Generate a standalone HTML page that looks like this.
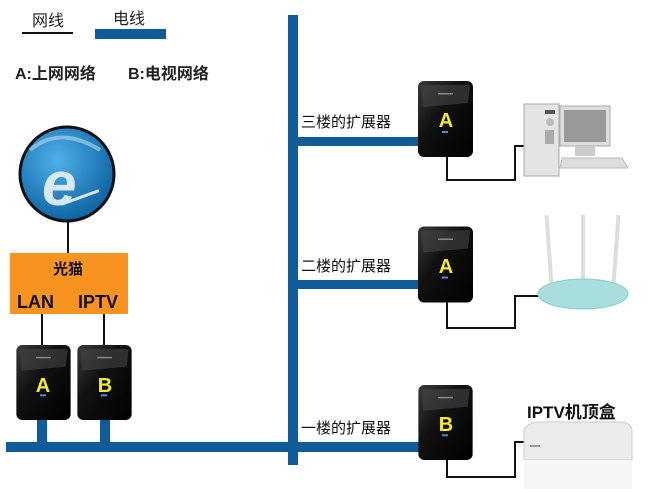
<!DOCTYPE html>
<html><head><meta charset="utf-8"><style>
body{margin:0;background:#fff;}
svg{display:block}
text{font-family:"Liberation Sans","Noto Sans CJK SC",sans-serif;}
</style></head><body>
<svg width="654" height="489" viewBox="0 0 654 489" xmlns="http://www.w3.org/2000/svg">
<defs>
<linearGradient id="dev" x1="0" y1="0" x2="1" y2="1"><stop offset="0" stop-color="#3a3a3a"/><stop offset="0.4" stop-color="#111"/><stop offset="1" stop-color="#000"/></linearGradient>
<radialGradient id="globe" cx="0.4" cy="0.35" r="0.7"><stop offset="0" stop-color="#4fb0e8"/><stop offset="1" stop-color="#0a5fa0"/></radialGradient>
<symbol id="ext" viewBox="0 0 55 76">
<rect x="0" y="0" width="55" height="76" rx="6" fill="url(#dev)"/>
<path d="M3 4 L52 4 L50 22 L5 26 Z" fill="#444" opacity="0.6"/>
<rect x="20" y="12" width="15" height="1.5" fill="#888"/>
<rect x="24" y="50" width="6" height="2" fill="#5588dd"/>
</symbol>
</defs>
<text x="32" y="26" font-size="16" fill="#222">网线</text>
<rect x="22" y="32" width="51" height="2" fill="#111"/>
<text x="113" y="24" font-size="16" fill="#222">电线</text>
<rect x="95" y="29" width="71" height="10" fill="#0f5c98"/>
<text x="15" y="79" font-size="16" font-weight="bold" fill="#222">A:上网网络</text>
<text x="128" y="79" font-size="16" font-weight="bold" fill="#222">B:电视网络</text>
<rect x="67" y="220" width="2" height="34" fill="#111"/>
<ellipse cx="67" cy="174" rx="47" ry="47" fill="url(#globe)" stroke="#111" stroke-width="3"/>
<path d="M30 150 Q60 125 100 150" stroke="#9fd0f0" stroke-width="4" fill="none" opacity="0.7"/>
<text x="42" y="205" font-size="62" font-weight="bold" fill="#d8e8f4" font-style="italic">e</text>
<rect x="60" y="196" width="40" height="3" fill="#d8e8f4" transform="rotate(-20 80 197)"/>
<rect x="10" y="253" width="118" height="61" fill="#f7931e"/>
<text x="68" y="274" font-size="15" font-weight="bold" fill="#111" text-anchor="middle">光猫</text>
<text x="17" y="308" font-size="18" font-weight="bold" fill="#111">LAN</text>
<text x="78" y="308" font-size="18" font-weight="bold" fill="#111">IPTV</text>
<rect x="41" y="314" width="2" height="32" fill="#111"/>
<rect x="103" y="314" width="2" height="32" fill="#111"/>
<rect x="288" y="15" width="10" height="450" fill="#0f5c98"/>
<rect x="6" y="442" width="420" height="10" fill="#0f5c98"/>
<rect x="37" y="418" width="10" height="26" fill="#0f5c98"/>
<rect x="100" y="418" width="10" height="26" fill="#0f5c98"/>
<rect x="296" y="137" width="125" height="9" fill="#0f5c98"/>
<rect x="296" y="280" width="125" height="9" fill="#0f5c98"/>
<use href="#ext" x="16" y="345" width="55" height="75"/>
<text x="43" y="392" font-size="20" font-weight="bold" fill="#f5ec2a" text-anchor="middle">A</text>
<use href="#ext" x="77" y="345" width="55" height="75"/>
<text x="105" y="392" font-size="20" font-weight="bold" fill="#f5ec2a" text-anchor="middle">B</text>
<text x="301" y="127" font-size="15" fill="#111">三楼的扩展器</text>
<text x="301" y="271" font-size="15" fill="#111">二楼的扩展器</text>
<text x="301" y="433" font-size="15" fill="#111">一楼的扩展器</text>
<path d="M447 155 V180 H515 V146 H524" stroke="#111" stroke-width="2" fill="none"/>
<path d="M447 300 V328 H515 V296 H540" stroke="#111" stroke-width="2" fill="none"/>
<path d="M447 458 V477 H515 V442 H524" stroke="#111" stroke-width="2" fill="none"/>
<use href="#ext" x="418" y="81" width="55" height="76"/>
<text x="446" y="127" font-size="20" font-weight="bold" fill="#f5ec2a" text-anchor="middle">A</text>
<use href="#ext" x="418" y="226" width="55" height="77"/>
<text x="446" y="273" font-size="20" font-weight="bold" fill="#f5ec2a" text-anchor="middle">A</text>
<use href="#ext" x="418" y="385" width="55" height="75"/>
<text x="446" y="431" font-size="20" font-weight="bold" fill="#f5ec2a" text-anchor="middle">B</text>
<rect x="524" y="104" width="35" height="72" fill="#e4e4e4" stroke="#aaa"/>
<rect x="545" y="110" width="10" height="4" fill="#555"/>
<circle cx="550" cy="122" r="4" fill="#bbb"/>
<rect x="545" y="130" width="9" height="14" fill="#aaa"/>
<rect x="560" y="106" width="50" height="40" fill="#ddd" stroke="#aaa"/>
<rect x="564" y="110" width="42" height="32" fill="#999"/>
<rect x="575" y="146" width="20" height="10" fill="#ccc"/>
<path d="M562 158 L622 158 L628 168 L560 168 Z" fill="#ddd" stroke="#bbb"/>
<rect x="547" y="215" width="4" height="70" fill="#ddd" transform="rotate(-4 549 250)"/>
<rect x="581" y="215" width="4" height="70" fill="#ddd"/>
<rect x="614" y="215" width="4" height="70" fill="#ddd" transform="rotate(4 616 250)"/>
<ellipse cx="583" cy="294" rx="45" ry="15" fill="#a8dede" stroke="#8cc"/>
<text x="527" y="418" font-size="17" font-weight="bold" fill="#111">IPTV机顶盒</text>
<path d="M524 430 Q528 422 540 422 L620 422 Q630 422 632 430 L632 460 L524 460 Z" fill="#ececec" stroke="#ccc"/>
<rect x="524" y="460" width="108" height="29" fill="#f6f6f6"/>
<rect x="530" y="445" width="10" height="2" fill="#999"/>
</svg>
</body></html>
